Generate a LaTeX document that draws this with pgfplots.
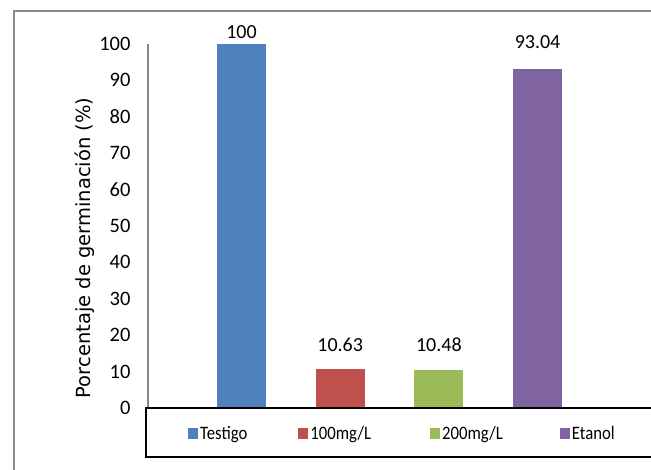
\documentclass[border=0pt]{standalone}
\usepackage{fontspec}
\setmainfont{Carlito}
\newfontfamily\dejavu{DejaVu Sans}
\newfontfamily\narrowfont{Carlito}[FakeStretch=0.88]
\usepackage{pgfplots}
\pgfplotsset{compat=1.18}
\definecolor{cblue}{HTML}{4F81BD}
\definecolor{cred}{HTML}{C0504D}
\definecolor{cgreen}{HTML}{9BBB59}
\definecolor{cpurple}{HTML}{8064A2}
\definecolor{framegray}{HTML}{8C8C8C}
\definecolor{axgray}{HTML}{868686}
\begin{document}
\begin{tikzpicture}
\clip (0pt,0pt) rectangle (651pt,470pt);
\fill[white] (0pt,0pt) rectangle (651pt,470pt);
\draw[framegray, line width=2pt] (13.5pt,-10pt) -- (13.5pt,458.5pt) -- (670pt,458.5pt);
\begin{axis}[
  at={(148pt,62pt)}, anchor=south west,
  x=98.7pt, y=3.64pt,
  xmin=-0.947, xmax=4.14, ymin=0, ymax=100,
  clip=false,
  hide x axis,
  axis y line*=left,
  y axis line style={draw=axgray, line width=2pt},
  ytick={0,10,...,100},
  ytick style={draw=none},
  /pgf/number format/assume math mode=true,
  yticklabel style={font=\fontsize{20.5}{24}\selectfont, xshift=-14pt},
  ylabel={Porcentaje de germinación (\%)},
  ylabel style={font=\dejavu\fontsize{19.5}{23}\selectfont, at={(axis description cs:-0.1255,0.44)}, anchor=center, rotate=0},
  every node near coord/.append style={font=\fontsize{20}{24}\selectfont, anchor=center},
  legend columns=4,
  legend style={draw=none, fill=none, inner sep=0pt, at={(axis description cs:0.0797,-0.0714)}, anchor=west,
    font=\narrowfont\fontsize{19}{23}\selectfont,
    /tikz/column 2/.style={column sep=49pt},
    /tikz/column 4/.style={column sep=57pt},
    /tikz/column 6/.style={column sep=55pt}},
  legend image code/.code={\fill[#1] (0pt,-5.5pt) rectangle (10pt,5.5pt);},
]
\addplot[ybar, bar width=49pt, bar shift=0pt, fill=cblue, draw=none,
  nodes near coords, nodes near coords style={yshift=12pt}] coordinates {(0,100)};
\addlegendentry{Testigo}
\addplot[ybar, bar width=49pt, bar shift=0pt, fill=cred, draw=none,
  nodes near coords, nodes near coords style={yshift=24.5pt}] coordinates {(1,10.63)};
\addlegendentry{100mg/L}
\addplot[ybar, bar width=49pt, bar shift=0pt, fill=cgreen, draw=none,
  nodes near coords, nodes near coords style={yshift=25pt}] coordinates {(2,10.48)};
\addlegendentry{200mg/L}
\addplot[ybar, bar width=49pt, bar shift=0pt, fill=cpurple, draw=none,
  nodes near coords, nodes near coords style={yshift=27pt}] coordinates {(3,93.04)};
\addlegendentry{Etanol}
\end{axis}
\draw[black, line width=2pt] (146pt,62pt) rectangle (670pt,13pt);
\end{tikzpicture}
\end{document}
